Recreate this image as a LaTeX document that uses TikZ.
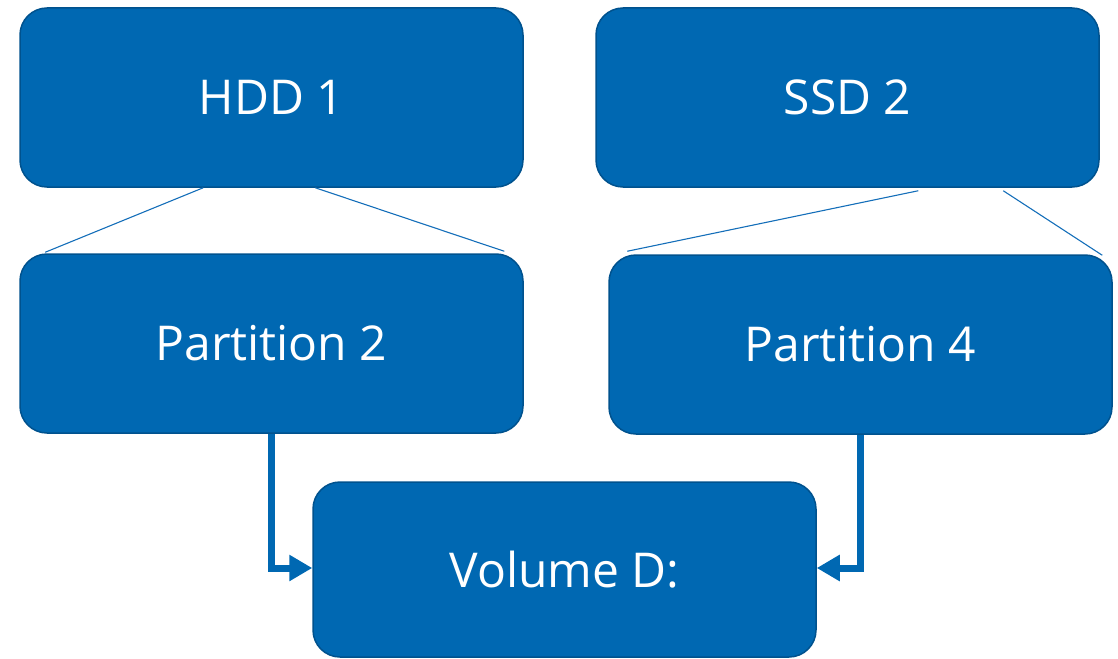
\documentclass[tikz,border=0pt]{standalone}
\usepackage{fontspec}
\setmainfont{Open Sans}
\usetikzlibrary{arrows.meta,calc}
\definecolor{boxfill}{RGB}{0,104,178}
\definecolor{boxline}{RGB}{0,82,142}
\definecolor{linkblue}{RGB}{20,110,185}
\begin{document}
\begin{tikzpicture}[x=1pt,y=-1pt,
  box/.style={draw=boxline, line width=1.5pt, fill=boxfill, rounded corners=27pt,
    minimum width=503pt, text=white, font=\fontsize{48}{52}\selectfont, inner sep=0pt},
  thin link/.style={draw=linkblue, line width=1.1pt},
  flow/.style={draw=boxfill, line width=7pt, -{Triangle[length=23pt,width=25pt]}}]
\useasboundingbox (0,0) rectangle (1118,658);
\node[box, minimum height=179pt] (hdd) at (271.5,97.5) {HDD 1};
\node[box, minimum height=179pt] (ssd) at (847.5,97.5) {SSD 2};
\node[box, minimum height=179pt] (p2) at (271.5,343.5) {Partition 2};
\node[box, minimum height=179pt] (p4) at (860.5,344.5) {Partition 4};
\node[box, minimum height=175pt] (vol) at (564.5,569.5) {Volume D:};
% thin connectors
\coordinate (h1) at ($(hdd.south west)+(184,0)$);
\coordinate (h2) at ($(hdd.south west)+(296,0)$);
\coordinate (q1) at ($(p2.north west)+(26,-1)$);
\coordinate (q2) at ($(p2.north west)+(485,-2)$);
\coordinate (s1) at ($(ssd.south west)+(323,3)$);
\coordinate (s2) at ($(ssd.south west)+(408,3)$);
\coordinate (r1) at ($(p4.north west)+(19,-3)$);
\coordinate (r2) at ($(p4.north west)+(494,1)$);
\draw[thin link] (h1) -- (q1);
\draw[thin link] (h2) -- (q2);
\draw[thin link] (s1) -- (r1);
\draw[thin link] (s2) -- (r2);
% thick arrows
\draw[flow] (p2.south) |- ([yshift=1.5pt]vol.west);
\draw[flow] (p4.south) |- ([yshift=1.5pt]vol.east);
\end{tikzpicture}
\end{document}
